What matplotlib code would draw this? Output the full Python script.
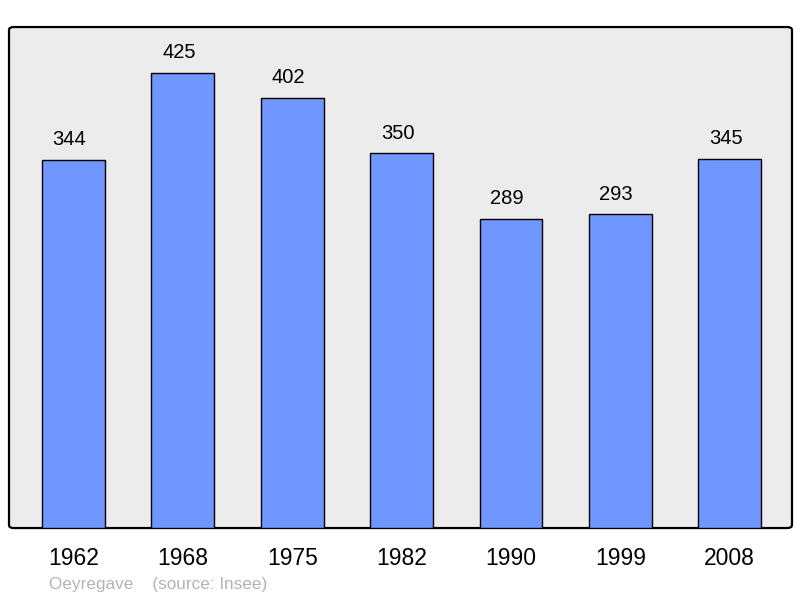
import matplotlib
matplotlib.use('Agg')
import matplotlib.pyplot as plt
from matplotlib.patches import FancyBboxPatch
from matplotlib.transforms import offset_copy

years = ['1962', '1968', '1975', '1982', '1990', '1999', '2008']
population = [344, 425, 402, 350, 289, 293, 345]

plt.rcParams['font.family'] = ['Liberation Sans', 'DejaVu Sans']

fig = plt.figure(figsize=(8, 5.98), dpi=100)
ax = fig.add_axes([0.01125, 0.117, 0.97875, 0.8378])

# rounded grey frame
frame = FancyBboxPatch((0, 0), 1, 1, boxstyle='round,pad=0,rounding_size=0.006',
                       transform=ax.transAxes, facecolor='#ececec',
                       edgecolor='black', linewidth=1.6, zorder=0, clip_on=False)
ax.add_patch(frame)
ax.patch.set_visible(False)
for s in ax.spines.values():
    s.set_visible(False)

x = range(len(years))
ax.bar(x, population, width=0.575, color='#7097ff', edgecolor='black',
       linewidth=1.0, zorder=2)
lbl_tr = offset_copy(ax.transData, fig=fig, x=-4, y=0, units='dots')
for i, v in enumerate(population):
    ax.text(i, v + 10, str(v), ha='center', va='bottom', fontsize=14.5,
            zorder=3, transform=lbl_tr)

ax.set_xlim(-0.59, 6.57)
ax.set_ylim(0, 468)
ax.set_yticks([])
ax.set_xticks(list(x))
ax.set_xticklabels(years, fontsize=16.5)
ax.tick_params(axis='x', length=0, pad=14)

fig.text(49 / 800, 1 - 585 / 598, 'Oeyregave    (source: Insee)', fontsize=12.3,
         color='#b4b4b4', ha='left', va='center')

fig.savefig('out.png', dpi=100)
